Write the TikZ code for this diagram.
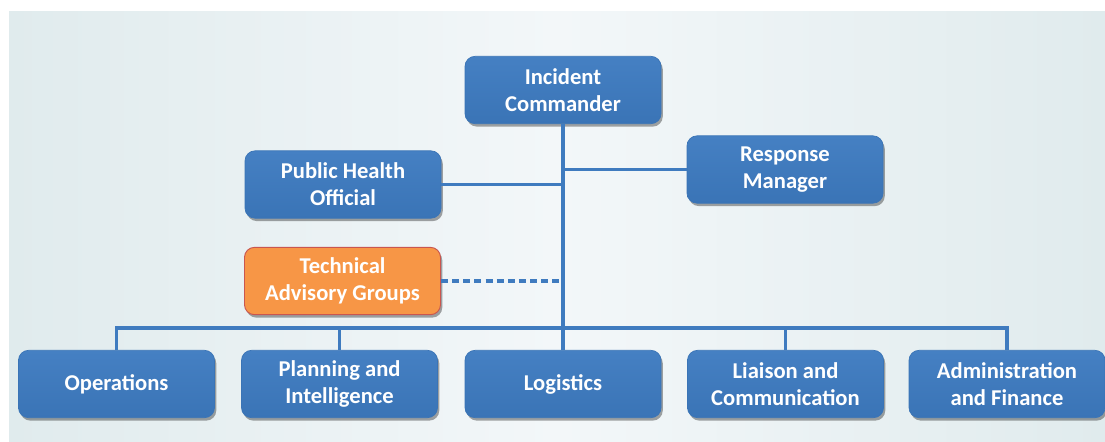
\documentclass[tikz,border=0pt]{standalone}
\usepackage{fontspec}
\setmainfont{Carlito}
\usetikzlibrary{shadows}

\definecolor{boxblue}{HTML}{3F7BBF}
\definecolor{boxtop}{HTML}{4580C3}
\definecolor{boxbot}{HTML}{3A74B6}
\definecolor{taorange}{HTML}{F79646}
\definecolor{taedge}{HTML}{C9564F}
\definecolor{bgside}{HTML}{E0EBED}
\definecolor{bgmid}{HTML}{F3F7F9}

\tikzset{
  unit/.style={rounded corners=0.3cm, minimum width=5.88cm, minimum height=2.02cm,
    align=center, text=white, font=\fontsize{19.3}{23}\selectfont\bfseries,
    drop shadow={shadow xshift=1.5pt, shadow yshift=-2.5pt, opacity=0.35, fill=black}},
  bluebox/.style={unit, top color=boxtop, bottom color=boxbot, draw=boxbot, line width=0.6pt},
  orangebox/.style={unit, fill=taorange, draw=taedge, line width=0.8pt},
  link/.style={draw=boxblue, line width=2.7pt},
}

\begin{document}
\begin{tikzpicture}[x=0.03cm,y=-0.03cm]
\useasboundingbox (0,0) rectangle (1105,441);
\shade[left color=bgside, right color=bgside, middle color=bgmid] (9,11) rectangle (1105,441);

% units
\node[bluebox] (ic) at (563,90) {Incident\\Commander};
\node[bluebox] (rm) at (785,169.5) {Response\\Manager};
\node[bluebox] (pho) at (343,184.5) {Public Health\\Official};
\node[orangebox] (tag) at (342.5,281) {Technical\\Advisory Groups};
\node[bluebox] (ops) at (116.5,384) {Operations};
\node[bluebox] (pai) at (339.5,384) {Planning and\\Intelligence};
\node[bluebox] (log) at (563,384) {Logistics};
\node[bluebox] (lac) at (785.5,384) {Liaison and\\Communication};
\node[bluebox] (aaf) at (1007,384) {Administration\\and Finance};

% connectors
\coordinate (bus) at (0,328);
\draw[link] (ic.south) -- (log.north);
\draw[link] (rm.west) -- (rm.west -| ic.south);
\draw[link] (pho.east) -- (pho.east -| ic.south);
\draw[link, dash pattern=on 6pt off 3.5pt] (tag.east) -- (tag.east -| ic.south);
\draw[link] (ops.north) -- (ops.north |- bus) -- (aaf.north |- bus) -- (aaf.north);
\foreach \n in {pai,lac}
  \draw[link] (\n.north) -- (\n.north |- bus);
\end{tikzpicture}
\end{document}
